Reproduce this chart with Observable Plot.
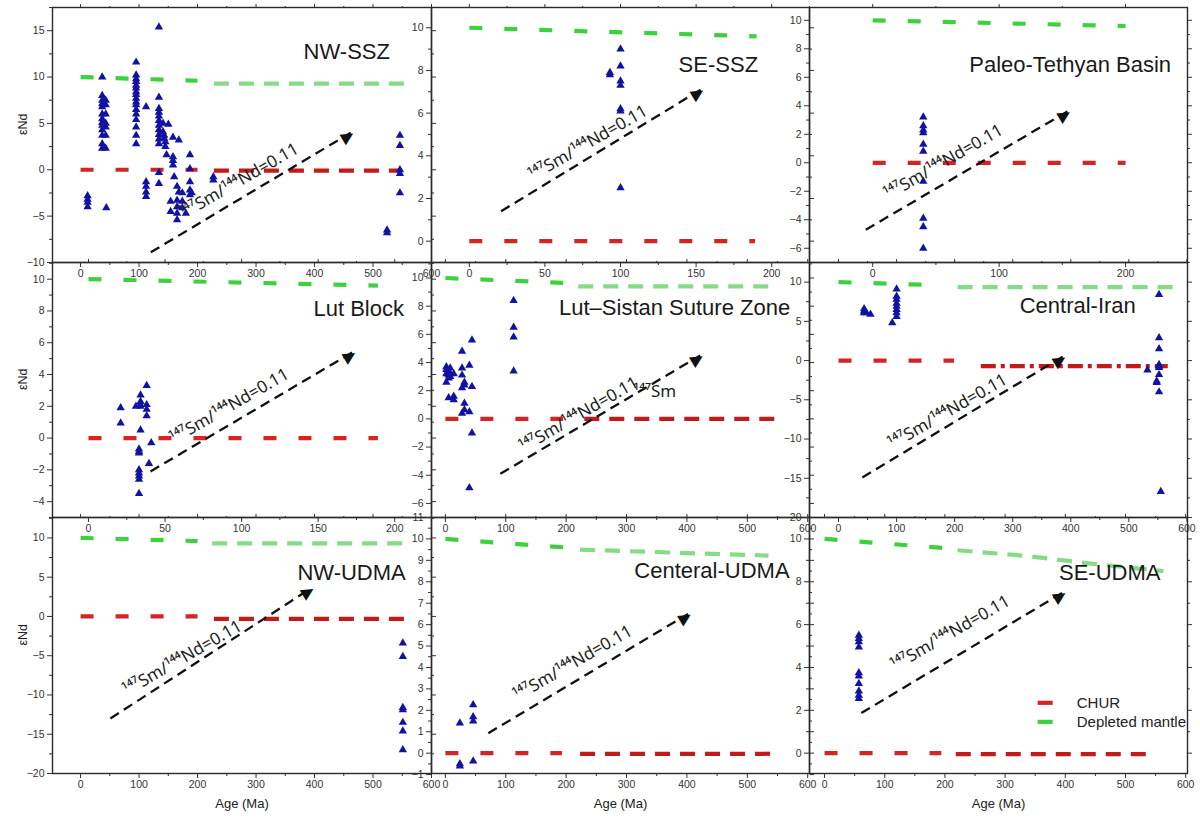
<!DOCTYPE html>
<html><head><meta charset="utf-8">
<script src="https://cdn.jsdelivr.net/npm/d3@7"></script>
<script src="https://cdn.jsdelivr.net/npm/@observablehq/plot@0.6"></script>
<style>
body{margin:0;background:#fff;}
#wrap{position:relative;width:1200px;height:820px;overflow:hidden;background:#fff;}
#wrap svg{position:absolute;overflow:visible;}
</style></head><body><div id="wrap"></div>
<script>
// ---------- DATA ----------
const panelNames = ["NW-SSZ","SE-SSZ","Paleo-Tethyan Basin","Lut Block","Lut–Sistan Suture Zone","Central-Iran","NW-UDMA","Centeral-UDMA","SE-UDMA"];

// samples: [age (Ma), εNd]
const samplesNWSSZ = [[12,-2.8],[12,-3.2],[12,-3.5],[12,-4.0],
 [37,10.0],[37,8.0],[37,7.5],[37,7.1],[37,6.8],[37,6.0],[37,5.5],[37,5.1],[37,4.8],[37,4.3],[37,3.7],[37,2.8],[37,2.3],
 [43,7.5],[43,7.0],[43,6.0],[43,5.0],[43,4.6],[43,3.7],[43,2.3],[44,-4.1],
 [95,11.6],[95,10.2],[95,9.8],[95,9.5],[95,9.1],[95,8.8],[95,8.4],[95,8.1],[95,7.7],[95,7.3],[95,7.0],[95,6.5],[95,6.0],[95,5.4],[95,4.6],[95,3.7],[95,2.8],
 [112,6.8],[112,-1.3],[112,-1.8],[112,-2.4],[112,-2.9],
 [134,15.4],[134,7.8],[134,6.6],[134,6.2],[134,5.8],[134,5.3],[134,4.8],[134,4.3],[134,3.8],[134,3.3],[134,2.8],[134,-0.3],[134,-1.5],
 [141,5.0],[141,4.1],[143,3.7],[143,3.4],[145,3.0],[145,2.5],[147,1.6],[150,4.9],
 [158,3.5],[158,1.4],[158,1.0],[158,0.5],[160,-0.75],
 [154,-3.4],[154,-4.5],[165,-1.8],[165,-3.3],[165,-4.0],[165,-4.7],[165,-5.4],[168,3.2],[168,-2.4],
 [174,-2.5],[174,-3.4],[174,-4.1],[180,-4.7],
 [187,1.6],[187,0.1],[187,-1.3],[187,-2.2],[187,-2.7],[190,-2.5],
 [227,-0.75],[227,-1.1],[524,-6.5],[524,-6.8],
 [546,3.7],[546,2.6],[546,0],[546,-0.4],[546,-2.5]];
const samplesSESSZ = [[93,7.9],[93,7.8],[100,9.0],[100,8.2],[100,7.5],[100,7.3],[100,6.2],[100,6.1],[100,2.5]];
const samplesPaleo = [[40,3.2],[40,2.6],[40,2.3],[40,2.1],[40,1.3],[40,0.8],[40,-1.3],[40,-3.9],[40,-4.5],[40,-6.0]];
const samplesLutBlock = [[21,1.9],[21,0.95],[31,2.0],[33,-0.7],[33,-0.85],[33,-0.95],[33,-2.0],[33,-2.2],[33,-2.4],[33,-2.6],[33,-3.5],
 [34,2.7],[34,2.3],[34,2.1],[34,2.0],[34,0.5],[38,3.3],[38,2.1],[38,1.8],[38,1.4],[41,-0.3],[39.5,-1.6]];
const samplesLutSistan = [[1.6,3.7],[1.6,3.5],[1.6,3.2],[1.6,2.6],[5.4,3.4],[5.4,3.1],[5.4,2.9],[5.4,1.5],[8,3.6],[8,3.2],[8,3.0],
 [13.8,3.2],[13.8,1.6],[13.8,1.35],[27.6,4.8],[27.6,3.6],[27.6,3.1],[27.6,2.2],[27.6,0.4],[31.5,2.6],[31.5,2.4],[31.5,1.1],[31.5,0.65],
 [39.7,3.8],[39.7,0.5],[39.7,-4.9],[44,5.6],[44,2.3],[44,-1.0],[113,8.4],[113,6.5],[113,5.8],[113,3.4]];
const samplesCentralIran = [[44,6.6],[44,6.3],[44,6.1],[48,6.1],[55,5.9],[92.5,4.8],
 [100,9.1],[100,8.2],[100,7.8],[100,7.3],[100,6.9],[100,6.5],[100,6.1],[100,5.6],
 [532,-1.2],[548,-2.6],[548,-2.8],[552,8.4],[552,2.9],[552,1.5],[552,-0.5],[552,-0.7],[552,-0.9],[552,-1.8],[552,-4.0],[555,-16.7]];
const samplesNWUDMA = [[551,-3.4],[551,-5.1],[551,-11.6],[551,-11.9],[551,-13.5],[551,-14.6],[551,-17.0]];
const samplesCentUDMA = [[24,1.4],[24,-0.5],[24,-0.6],[46,2.26],[46,1.7],[46,1.5],[46,-0.37]];
const samplesSEUDMA = [[57,5.5],[57,5.35],[57,5.2],[57,4.95],[57,3.75],[57,3.6],[57,3.25],[57,2.9],[57,2.7],[57,2.55]];

// reference curves: [panel, segment, age, εNd]
const churLines = [
 ["NW-SSZ",1,0,0],["NW-SSZ",1,200,0],["NW-SSZ",2,228,-0.1],["NW-SSZ",2,550,-0.1],
 ["SE-SSZ",1,0,0],["SE-SSZ",1,189,0],
 ["Paleo-Tethyan Basin",1,0,0],["Paleo-Tethyan Basin",1,200,0],
 ["Lut Block",1,0,0],["Lut Block",1,189,0],
 ["Lut–Sistan Suture Zone",1,0,0],["Lut–Sistan Suture Zone",1,195,0],["Lut–Sistan Suture Zone",2,230,0],["Lut–Sistan Suture Zone",2,546,0],
 ["Central-Iran",1,0,0],["Central-Iran",1,199,0],["Central-Iran",2,245,-0.7],["Central-Iran",2,567,-0.7],
 ["NW-UDMA",1,0,0],["NW-UDMA",1,200,0],["NW-UDMA",2,228,-0.3],["NW-UDMA",2,556,-0.3],
 ["Centeral-UDMA",1,0,0],["Centeral-UDMA",1,193,0],["Centeral-UDMA",2,223,-0.03],["Centeral-UDMA",2,541,-0.03],
 ["SE-UDMA",1,0,0],["SE-UDMA",1,194,0],["SE-UDMA",2,218,-0.05],["SE-UDMA",2,545,-0.05]];
const depletedMantleLines = [
 ["NW-SSZ",1,0,10],["NW-SSZ",1,200,9.6],["NW-SSZ",2,228,9.3],["NW-SSZ",2,556,9.3],
 ["SE-SSZ",1,0,10],["SE-SSZ",1,190,9.6],
 ["Paleo-Tethyan Basin",1,0,10],["Paleo-Tethyan Basin",1,200,9.6],
 ["Lut Block",1,0,10],["Lut Block",1,189,9.6],
 ["Lut–Sistan Suture Zone",1,0,10],["Lut–Sistan Suture Zone",1,195,9.65],["Lut–Sistan Suture Zone",2,220,9.4],["Lut–Sistan Suture Zone",2,540,9.4],
 ["Central-Iran",1,0,10],["Central-Iran",1,175,9.6],["Central-Iran",2,205,9.35],["Central-Iran",2,590,9.35],
 ["NW-UDMA",1,0,10],["NW-UDMA",1,200,9.6],["NW-UDMA",2,225,9.3],["NW-UDMA",2,554,9.3],
 ["Centeral-UDMA",1,0,10],["Centeral-UDMA",1,200,9.6],["Centeral-UDMA",2,223,9.5],["Centeral-UDMA",2,535,9.22],
 ["SE-UDMA",1,0,10],["SE-UDMA",1,200,9.57],["SE-UDMA",2,221,9.47],["SE-UDMA",2,330,9.22],["SE-UDMA",2,442,8.85],["SE-UDMA",2,563,8.5]];

// 147Sm/144Nd = 0.11 evolution arrows: [panel, age1, εNd1, age2, εNd2]
const ratioArrows = [
 ["NW-SSZ",120,-8.9,462,4.0],["SE-SSZ",21,1.4,153,7.1],["Paleo-Tethyan Basin",-5.5,-4.7,154,3.6],
 ["Lut Block",40.5,-2.1,172.5,5.4],["Lut–Sistan Suture Zone",91,-3.9,422,4.5],["Central-Iran",41,-14.9,386,0.5],
 ["NW-UDMA",51,-13,394,3.6],["Centeral-UDMA",71,0.93,402,6.5],["SE-UDMA",61,1.87,396,7.5]];
const ratioText = "\u00B9\u2074\u2077Sm/\u00B9\u2074\u2074Nd=0.11";
// label anchors (data coords): [panel, age, εNd]
const ratioLabelAt = [
 ["NW-SSZ",271,-1.2],["SE-SSZ",78.5,4.6],["Paleo-Tethyan Basin",56,0.05],["Lut Block",92,2.0],
 ["Lut–Sistan Suture Zone",221,0.3],["Central-Iran",188,-6.5],["NW-UDMA",174,-5.3],["Centeral-UDMA",211,4.2],["SE-UDMA",209,5.6]];
const panelTitleAt = [
 ["NW-SSZ",529,12.7],["SE-SSZ",191,8.26],["Paleo-Tethyan Basin",236,6.9],["Lut Block",206,8.1],
 ["Lut–Sistan Suture Zone",571,7.9],["Central-Iran",512,6.9],["NW-UDMA",556,5.6],["Centeral-UDMA",570,8.5],["SE-UDMA",558,8.4]];
const strayLabels = [["Lut–Sistan Suture Zone","\u00B9\u2074\u2077Sm",311,1.94]];
// legend (in SE-UDMA panel): [name, age1, age2, εNd, textAge]
const legendItems = [["CHUR",354,379,2.35,419],["Depleted mantle",354,379,1.46,419]];
const xTitle = "Age (Ma)", yTitle = "εNd";

// ---------- LAYOUT / AXES ----------
const frames = [
 [52,7,379,255],[431,7,378,255],[809,7,378,255],
 [52,262,379,255],[431,262,378,255],[809,262,378,255],
 [52,517,379,256],[431,517,378,256],[809,517,378,256]];
const axesCfg = [
 {x:[-48,600], xt:[0,100,200,300,400,500,600], xm:50, y:[-10,17.5], yt:[-10,-5,0,5,10,15], ym:2.5},
 {x:[-25,225], xt:[0,50,100,150,200], xm:25, y:[-1,10.95], yt:[0,2,4,6,8,10], ym:1},
 {x:[-50,249], xt:[0,100,200], xm:50, y:[-7,10.9], yt:[-6,-4,-2,0,2,4,6,8,10], ym:1},
 {x:[-23.5,224], xt:[0,50,100,150,200], xm:25, y:[-5,11.05], yt:[-4,-2,0,2,4,6,8,10], ym:1},
 {x:[-23,603], xt:[0,100,200,300,400,500,600], xm:50, y:[-7,11.1], yt:[-6,-4,-2,0,2,4,6,8,10], ym:1},
 {x:[-50,601], xt:[0,100,200,300,400,500,600], xm:50, y:[-20,12.5], yt:[-20,-15,-10,-5,0,5,10], ym:2.5},
 {x:[-48,600], xt:[0,100,200,300,400,500,600], xm:50, y:[-20,12.6], yt:[-20,-15,-10,-5,0,5,10], ym:2.5},
 {x:[-23,603], xt:[0,100,200,300,400,500,600], xm:50, y:[-0.95,11], yt:d3.range(-1,12), ym:0.5},
 {x:[-25,603], xt:[0,100,200,300,400,500,600], xm:50, y:[-0.95,11], yt:[0,2,4,6,8,10], ym:1}];
const samplesByPanel = [samplesNWSSZ,samplesSESSZ,samplesPaleo,samplesLutBlock,samplesLutSistan,samplesCentralIran,samplesNWUDMA,samplesCentUDMA,samplesSEUDMA];

const RED1="#d42424", RED2="#c21b1b", GRN1="#3dd23d", GRN2="#86dc86", TRI="#1212a2";
function minor(dom, step, majors){
  return d3.range(Math.ceil(dom[0]/step)*step, dom[1]+1e-9, step).filter(v=>!majors.some(m=>Math.abs(m-v)<1e-9));
}
const wrap = document.getElementById("wrap");
const blank = () => "";

panelNames.forEach((name,i)=>{
  const [L,T,W,H] = frames[i], a = axesCfg[i];
  const pts = samplesByPanel[i].map(([age,eNd])=>({age,eNd}));
  const toRows = arr => arr.filter(d=>d[0]===name).map(([,seg,age,eNd])=>({seg,age,eNd}));
  const chur = toRows(churLines), dm = toRows(depletedMantleLines);
  const arrows = ratioArrows.filter(d=>d[0]===name).map(([,x1,y1,x2,y2])=>({x1,y1,x2,y2}));
  const lab = ratioLabelAt.filter(d=>d[0]===name).map(([,age,eNd])=>({age,eNd,t:ratioText}));
  const ttl = panelTitleAt.filter(d=>d[0]===name).map(([t,age,eNd])=>({age,eNd,t}));
  const stray = strayLabels.filter(d=>d[0]===name).map(([,t,age,eNd])=>({age,eNd,t}));
  const marks = [];
  [[dm,[GRN1,GRN2],"DM"],[chur,[RED1,RED2],"CHUR"]].forEach(([rows,cols,series])=>{
    [1,2].forEach(seg=>{
      const r = rows.filter(d=>d.seg===seg);
      if (!r.length) return;
      const dash = seg===1 ? "13,22" : (series==="CHUR" && name==="Central-Iran" ? "15,5,4,5" : "15,10");
      marks.push(Plot.line(r,{x:"age",y:"eNd",stroke:cols[seg-1],strokeWidth:4.2,strokeDasharray:dash,strokeLinecap:"butt"}));
    });
  });
  marks.push(Plot.dot(pts,{x:"age",y:"eNd",symbol:"triangle",r:3.1,fill:TRI,stroke:"none"}));
  marks.push(Plot.link(arrows,{x1:"x1",y1:"y1",x2:"x2",y2:"y2",stroke:"#111",strokeWidth:2.3,strokeDasharray:"10,6"}));
  marks.push(Plot.text(arrows,{x:"x2",y:"y2",text:()=>"\u25B6",rotate:-31,textAnchor:"end",fontSize:16,fill:"#111",fontFamily:"DejaVu Sans",dx:2}));
  marks.push(Plot.text(lab,{x:"age",y:"eNd",text:"t",rotate:-30,fontSize:17,fill:"#222",fontFamily:"Noto Sans"}));
  marks.push(Plot.text(stray,{x:"age",y:"eNd",text:"t",textAnchor:"start",fontSize:17,fill:"#222",fontFamily:"Noto Sans"}));
  marks.push(Plot.text(ttl,{x:"age",y:"eNd",text:"t",textAnchor:"end",fontSize:22,fill:"#1a1a1a",fontFamily:"Liberation Sans, Arial, sans-serif"}));
  if (name==="SE-UDMA") {
    const lg = legendItems.map(([t,x1,x2,y,tx],k)=>({t,x1,x2,y,tx,k}));
    marks.push(Plot.link(lg,{x1:"x1",x2:"x2",y1:"y",y2:"y",stroke:d=>d.k===0?RED1:GRN1,strokeWidth:4.2}));
    marks.push(Plot.text(lg,{x:"tx",y:"y",text:"t",textAnchor:"start",fontSize:15,fill:"#222",fontFamily:"Liberation Sans, Arial, sans-serif"}));
  }
  const ymin = minor(a.y,a.ym,a.yt), xmin = minor(a.x,a.xm,a.xt);
  marks.push(
    Plot.axisY({anchor:"left",ticks:a.yt,tickSize:5,tickPadding:3,fontSize:10.5,label:null}),
    Plot.axisY({anchor:"left",ticks:ymin,tickSize:3,tickFormat:blank,label:null}),
    Plot.axisY({anchor:"right",ticks:a.yt,tickSize:4,tickFormat:blank,label:null}),
    Plot.axisY({anchor:"right",ticks:ymin,tickSize:2,tickFormat:blank,label:null}),
    Plot.axisX({anchor:"bottom",ticks:a.xt,tickSize:5,tickPadding:2,fontSize:10.5,label:null}),
    Plot.axisX({anchor:"bottom",ticks:xmin,tickSize:3,tickFormat:blank,label:null}),
    Plot.axisX({anchor:"top",ticks:a.xt,tickSize:4,tickFormat:blank,label:null}),
    Plot.axisX({anchor:"top",ticks:xmin,tickSize:2,tickFormat:blank,label:null}),
    Plot.frame({stroke:"#2a2a2a",strokeWidth:1.4})
  );
  if (i%3===0) marks.push(Plot.text([yTitle],{text:d=>d,frameAnchor:"left",dx:-30,rotate:-90,fontSize:12.5,fill:"#222",fontFamily:"Liberation Sans, Arial, sans-serif"}));
  if (i>=6) marks.push(Plot.text([xTitle],{text:d=>d,frameAnchor:"bottom",dy:34,fontSize:13,fill:"#222",fontFamily:"Liberation Sans, Arial, sans-serif"}));
  const svg = Plot.plot({
    width:W, height:H, marginTop:0, marginRight:0, marginBottom:0, marginLeft:0,
    x:{domain:a.x}, y:{domain:a.y},
    style:{overflow:"visible", background:"transparent", color:"#333", fontFamily:"Liberation Sans, Arial, sans-serif", fontSize:"10.5px"},
    marks
  });
  svg.style.left = L+"px"; svg.style.top = T+"px";
  wrap.appendChild(svg);
});
</script></body></html>
